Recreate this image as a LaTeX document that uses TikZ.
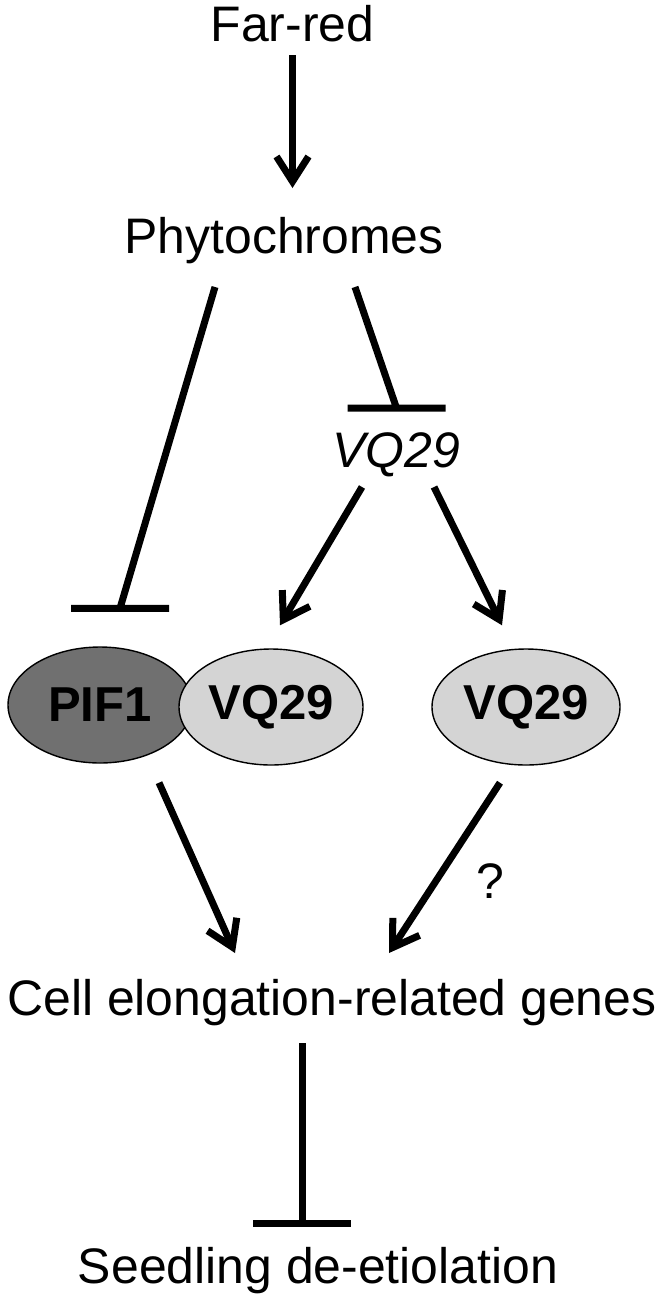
\documentclass[tikz,border=0pt]{standalone}
\usepackage{fontspec}
\setmainfont{Liberation Sans}
\usetikzlibrary{arrows.meta,calc,shapes.geometric}
\definecolor{pifgray}{RGB}{112,112,112}
\definecolor{vqgray}{RGB}{212,212,212}

\begin{document}
\begin{tikzpicture}[every node/.style={font=\fontsize{28.4}{34}\selectfont,inner sep=0pt},
                    act/.style={line width=0.14cm,-{Straight Barb[length=0.5cm,width=0.64cm]}},
                    inh/.style={line width=0.14cm,to path={-- (\tikztotarget) +(-0.98,0) -- +(0.98,0)}},
                    protein/.style={ellipse,draw,line width=0.8pt,minimum width=3.68cm,
                                    minimum height=2.32cm,font=\fontsize{27.9}{34}\selectfont\bfseries}]
  \useasboundingbox (0,0) rectangle (13.28,-26);

  % --- signal and receptors ------------------------------------------------
  \node[anchor=base] (far) at (5.85,-0.82) {Far-red};
  \node[anchor=base] (phy) at (5.68,-5.06) {Phytochromes};
  \node[anchor=base] (vqg) at (7.93,-9.34) {\itshape VQ29};

  % --- proteins ---------------------------------------------------------------
  \node[protein,fill=pifgray] (pif) at (2.0,-14.10) {PIF1};
  \node[protein,fill=vqgray] (vqa) at (5.42,-14.14) {VQ29};
  \node[protein,fill=vqgray,minimum width=3.76cm] (vqb) at (10.52,-14.14) {VQ29};

  % --- outputs ----------------------------------------------------------------
  \node[anchor=base] (qmark) at (9.80,-17.96) {?};
  \node[anchor=base] (genes) at (6.64,-20.30) {Cell elongation-related genes};
  \node[anchor=base] (seed) at (6.36,-25.66) {Seedling de-etiolation};

  % --- connectors -------------------------------------------------------------
  \draw[act] ($(far.base)+(0,-0.28)$) -- ($(far.base |- phy.base)+(0,1.30)$);
  \draw[inh] ($(phy.base)+(-1.38,-0.68)$) to ($(pif.north)+(0.40,0.76)$);
  \draw[inh] ($(phy.base)+(1.42,-0.68)$) to ($(vqg.base)+(0,1.18)$);
  \draw[act] ($(vqg.base)+(-0.69,-0.40)$) -- ($(vqa.north)+(0.18,0.46)$);
  \draw[act] ($(vqg.base)+(0.75,-0.40)$) -- ($(vqb.north)+(-0.48,0.46)$);
  \draw[act] ($(pif.south)+(1.18,-0.38)$) -- ($(genes.base)+(-1.94,1.24)$);
  \draw[act] ($(vqb.south)+(-0.52,-0.34)$) -- ($(genes.base)+(1.14,1.24)$);
  \draw[inh] ($(genes.base)+(-0.60,-0.56)$) to ($(seed.base)+(-0.32,1.20)$);
\end{tikzpicture}
\end{document}
